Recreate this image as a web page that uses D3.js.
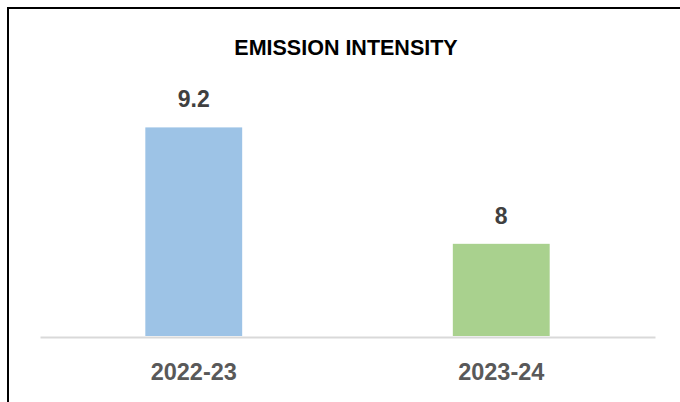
<!DOCTYPE html>
<html>
<head>
<meta charset="utf-8">
<script src="https://cdn.jsdelivr.net/npm/d3@7"></script>
<style>
  html, body { margin: 0; padding: 0; background: #fff; }
  svg { display: block; }
  text { font-family: "Liberation Sans", Arial, sans-serif; font-weight: bold; }
</style>
</head>
<body>
<svg id="chart" width="680" height="402"></svg>
<script>
const categories = ["2022-23", "2023-24"];
const values = [9.2, 8];
const barColors = ["#9DC3E6", "#A9D18E"];
const title = "EMISSION INTENSITY";
const yDomain = [7.05, 9.4];

const svg = d3.select("#chart");

// outer chart border (extends beyond the visible area on right/bottom)
svg.append("rect")
  .attr("x", 8).attr("y", 8)
  .attr("width", 720).attr("height", 440)
  .attr("fill", "#fff")
  .attr("stroke", "#000")
  .attr("stroke-width", 2);

const x = d3.scaleBand()
  .domain(categories)
  .range([40, 655])
  .paddingInner(0.685)
  .paddingOuter(0.3425);

const y = d3.scaleLinear()
  .domain(yDomain)
  .range([336, 108]);

// title
svg.append("text")
  .attr("x", 346).attr("y", 55)
  .attr("text-anchor", "middle")
  .attr("font-size", "21.5px")
  .attr("fill", "#000")
  .text(title);

const data = categories.map((c, i) => ({ c, v: values[i], color: barColors[i] }));

// bars
svg.append("g").selectAll("rect")
  .data(data)
  .join("rect")
  .attr("x", d => x(d.c))
  .attr("width", x.bandwidth())
  .attr("y", d => y(d.v))
  .attr("height", d => y(yDomain[0]) - y(d.v))
  .attr("fill", d => d.color);

// axis line + category labels
const xAxis = d3.axisBottom(x).tickSize(0).tickPadding(0);
const gx = svg.append("g")
  .attr("transform", `translate(0,${y(yDomain[0]) + 1})`)
  .call(xAxis);
gx.select(".domain")
  .attr("stroke", "#D9D9D9")
  .attr("stroke-width", 2);
gx.selectAll(".tick text")
  .attr("font-family", "'Liberation Sans', Arial, sans-serif")
  .attr("font-weight", "bold")
  .attr("font-size", "23.5px")
  .attr("fill", "#595959")
  .attr("dy", null)
  .attr("y", 43);

// data labels
svg.append("g").selectAll("text")
  .data(data)
  .join("text")
  .attr("x", d => x(d.c) + x.bandwidth() / 2)
  .attr("y", d => y(d.v) - 20)
  .attr("text-anchor", "middle")
  .attr("font-size", "23px")
  .attr("fill", "#404040")
  .text(d => d.v);
</script>
</body>
</html>
